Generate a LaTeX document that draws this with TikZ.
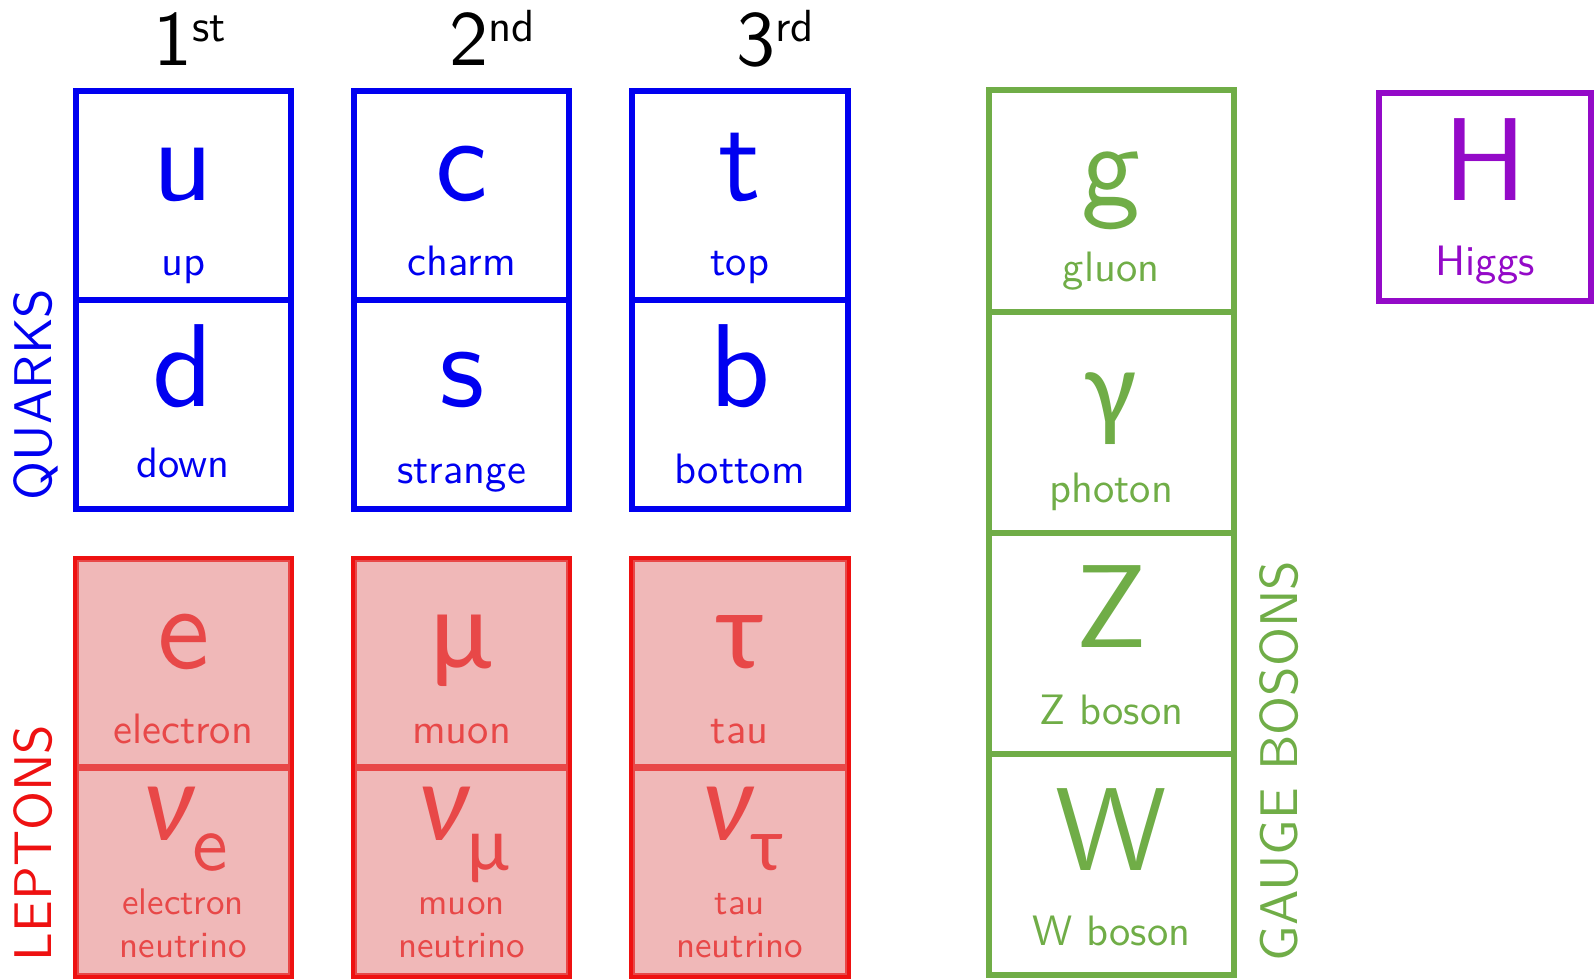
\documentclass[tikz,border=0pt]{standalone}
\usepackage{fontspec}
\setsansfont{lmsans10-regular.otf}
\newfontfamily\greekfont{Carlito}
\definecolor{qblue}{RGB}{0,0,240}
\definecolor{lborder}{RGB}{238,17,17}
\definecolor{lfill}{RGB}{240,184,184}
\definecolor{ltext}{RGB}{232,72,72}
\definecolor{ggreen}{RGB}{112,173,71}
\definecolor{hpurple}{RGB}{148,10,200}
\newcommand\SymFont{\sffamily\fontsize{118}{120}\selectfont}
\newcommand\GrkFont{\greekfont\fontsize{112}{120}\selectfont}
\newcommand\SubFont{\sffamily\fontsize{80}{84}\selectfont}
\newcommand\GrkSubFont{\greekfont\fontsize{76}{84}\selectfont}
\newcommand\LabFont{\sffamily\fontsize{42.5}{45}\selectfont}
\newcommand\SmallLabFont{\sffamily\fontsize{37}{40}\selectfont}
\newcommand\HeadFont{\sffamily\fontsize{78}{80}\selectfont}
\newcommand\SupFont{\sffamily\fontsize{45}{48}\selectfont}
\newcommand\CatFont{\sffamily\fontsize{53}{58}\selectfont}
\newcommand\Nu{{\itshape ν}}
\begin{document}
\begin{tikzpicture}[x=1pt,y=-1pt,
  cell/.style={draw,line width=6pt,inner sep=0pt,outer sep=0pt,anchor=north west,minimum width=215.5pt,minimum height=208.7pt},
  qcell/.style={cell,draw=qblue},
  lcell/.style={cell,draw=ltext,fill=lfill},
  gcell/.style={cell,draw=ggreen,minimum width=245pt,minimum height=221.2pt},
  hcell/.style={cell,draw=hpurple,minimum width=212pt,minimum height=208.5pt},
  txt/.style={anchor=base,inner sep=0pt,outer sep=0pt},
  sym/.style={txt,font=\SymFont},
  grk/.style={txt,font=\GrkFont},
  lab/.style={txt,font=\LabFont},
  slab/.style={txt,font=\SmallLabFont},
  head/.style={anchor=base west,inner sep=0pt,outer sep=0pt,font=\HeadFont,text=black},
  cat/.style={anchor=base west,inner sep=0pt,outer sep=0pt,rotate=90,font=\CatFont}]
\useasboundingbox (0,0) rectangle (1594,978);
% headers
\node[head] (h1) at (153.5,65) {1\raisebox{23.3pt}{\SupFont st}};
\node[head] (h2) at (449.5,65) {2\raisebox{23.3pt}{\SupFont nd}};
\node[head] (h3) at (736.5,65) {3\raisebox{23.3pt}{\SupFont rd}};
% quark cells
\node[qcell] (cu) at (75.6,91.3) {};
\node[qcell] (cd) at (75.6,300) {};
\node[qcell] (cc) at (353.8,91.3) {};
\node[qcell] (cs) at (353.8,300) {};
\node[qcell] (ct) at (632,91.3) {};
\node[qcell] (cb) at (632,300) {};
\begin{scope}[every node/.append style={text=qblue}]
\node[sym] (su) at (183.2,200) {u};
\node[lab] (lu) at (183.2,275) {up};
\node[sym] (sd) at (183.2,406) {d};
\node[lab] (ld) at (183.2,477) {down};
\node[sym] (sc) at (461.6,200) {c};
\node[lab] (lc) at (461.6,275) {charm};
\node[sym] (ss) at (461.6,406) {s};
\node[lab] (ls) at (461.6,483) {strange};
\node[sym] (st) at (739.8,200) {t};
\node[lab] (lt) at (739.8,275) {top};
\node[sym] (sb) at (739.8,406) {b};
\node[lab] (lb) at (739.8,483) {bottom};
\end{scope}
% lepton cells
\node[lcell] (ce) at (75.6,558.7) {};
\node[lcell] (cne) at (75.6,767.5) {};
\node[lcell] (cm) at (353.8,558.7) {};
\node[lcell] (cnm) at (353.8,767.5) {};
\node[lcell] (cta) at (632,558.7) {};
\node[lcell] (cnt) at (632,767.5) {};
\draw[lborder,line width=4pt] ([shift={(-1,-1)}]ce.north west) rectangle ([shift={(1,1)}]cne.south east);
\draw[lborder,line width=4pt] ([shift={(-1,-1)}]cm.north west) rectangle ([shift={(1,1)}]cnm.south east);
\draw[lborder,line width=4pt] ([shift={(-1,-1)}]cta.north west) rectangle ([shift={(1,1)}]cnt.south east);
\begin{scope}[every node/.append style={text=ltext}]
\node[sym] (se) at (183.2,668) {e};
\node[lab] (le) at (183.2,743) {electron};
\node[grk] (sne) at (185.5,840) {\Nu\raisebox{-30pt}{\SubFont e}};
\node[slab] (lne1) at (183.2,914) {electron};
\node[slab] (lne2) at (183.2,957) {neutrino};
\node[grk] (sm) at (461.6,668) {μ};
\node[lab] (lm) at (461.6,743) {muon};
\node[grk] (snm) at (463.6,840) {\Nu\raisebox{-30pt}{\GrkSubFont μ}};
\node[slab] (lnm1) at (461.6,914) {muon};
\node[slab] (lnm2) at (461.6,957) {neutrino};
\node[grk] (sta) at (739.8,668) {τ};
\node[lab] (lta) at (739.8,743) {tau};
\node[grk] (snt) at (741.8,840) {\Nu\raisebox{-30pt}{\GrkSubFont τ}};
\node[slab] (lnt1) at (739.8,914) {tau};
\node[slab] (lnt2) at (739.8,957) {neutrino};
\end{scope}
% gauge bosons
\node[gcell] (cg) at (988.7,90.3) {};
\node[gcell] (cgam) at (988.7,311.5) {};
\node[gcell] (cz) at (988.7,532.7) {};
\node[gcell] (cw) at (988.7,753.9) {};
\begin{scope}[every node/.append style={text=ggreen}]
\node[sym] (sg) at (1111.2,205) {g};
\node[lab] (lg) at (1111.2,281) {gluon};
\node[grk] (sgam) at (1111.2,426.7) {γ};
\node[lab] (lgam) at (1111.2,502.7) {photon};
\node[sym] (sz) at (1111.2,647.6) {Z};
\node[lab] (lz) at (1111.2,724.5) {Z boson};
\node[sym] (sw) at (1111.2,870) {W};
\node[lab] (lw) at (1111.2,945) {W boson};
\end{scope}
% Higgs
\node[hcell] (ch) at (1379,92.5) {};
\node[sym,text=hpurple] (sh) at (1485,200) {H};
\node[lab,text=hpurple] (lh) at (1485,275) {Higgs};
% categories
\node[cat,text=qblue] (kq) at (51,500) {QUARKS};
\node[cat,text=lborder] (kl) at (51,961) {LEPTONS};
\node[cat,text=ggreen] (kg) at (1297,961) {GAUGE BOSONS};
\end{tikzpicture}
\end{document}
